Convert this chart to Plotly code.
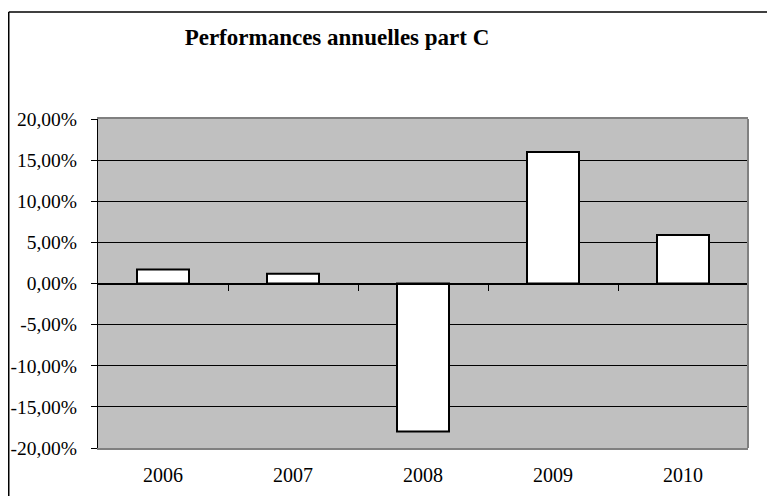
import plotly.graph_objects as go

years = ["2006", "2007", "2008", "2009", "2010"]
perf = [1.7, 1.2, -18.0, 16.0, 5.9]
ytick_vals = [20, 15, 10, 5, 0, -5, -10, -15, -20]
ytick_text = ["20,00%", "15,00%", "10,00%", "5,00%", "0,00%", "-5,00%", "-10,00%", "-15,00%", "-20,00%"]
title_text = "Performances annuelles part C"

FONT = "Liberation Serif, Times New Roman, serif"

# page body has an 8px margin; figure is sized to fit the window
W, H = 767, 488
L, T, R, B = 90, 111, 27, 48
PW, PH = W - L - R, H - T - B

fig = go.Figure()
fig.add_trace(go.Bar(
    x=years, y=perf, width=0.4,
    marker=dict(color="white", line=dict(color="black", width=2)),
    showlegend=False, hoverinfo="x+y",
))
# empty trace to carry the zero-line axis
fig.add_trace(go.Scatter(x=[], y=[], xaxis="x2", showlegend=False))

fig.update_layout(
    width=W, height=H,
    margin=dict(l=L, r=R, t=T, b=B, pad=0, autoexpand=False),
    paper_bgcolor="white",
    plot_bgcolor="#C0C0C0",
    font=dict(family=FONT, size=19.5, color="black"),
    title=dict(text="<b>" + title_text + "</b>", font=dict(family=FONT, size=23, color="black"),
               x=329 / W, xanchor="center", xref="container",
               y=1 - 29 / H, yanchor="middle", yref="container", automargin=False),
    xaxis=dict(type="category", range=[-0.5, 4.5], showgrid=False, zeroline=False,
               showline=True, linecolor="#808080", linewidth=2, mirror=True,
               ticks="", ticklabelstandoff=8, tickfont=dict(size=20), automargin=False),
    xaxis2=dict(overlaying="x", anchor="free", position=0.5, range=[-0.5, 4.5],
                showline=True, linecolor="black", linewidth=1,
                tickvals=[0.5, 1.5, 2.5, 3.5, 4.5], ticks="outside", ticklen=6,
                tickcolor="black", tickwidth=1, showticklabels=False,
                showgrid=False, zeroline=False, automargin=False),
    yaxis=dict(range=[-20, 20], tickvals=ytick_vals, ticktext=ytick_text,
               showgrid=True, gridcolor="black", gridwidth=1, zeroline=False,
               showline=True, linecolor="black", linewidth=1,
               ticks="outside", ticklen=6, tickcolor="black",
               ticklabelstandoff=10, tickfont=dict(size=19.5), automargin=False),
    shapes=[
        # right border of plot area
        dict(type="line", xref="paper", yref="paper", x0=1, x1=1, y0=0, y1=1,
             line=dict(color="#808080", width=2)),
        # outer chart frame (top and left edges, extending past the image)
        dict(type="line", xref="paper", yref="paper",
             x0=(0.75 - L) / PW, x1=(W + 10 - L) / PW,
             y0=(H - B - 4) / PH, y1=(H - B - 4) / PH,
             line=dict(color="black", width=1.5)),
        dict(type="line", xref="paper", yref="paper",
             x0=(0.75 - L) / PW, x1=(0.75 - L) / PW,
             y0=(H - B - 4) / PH, y1=(H - B - H - 20) / PH,
             line=dict(color="black", width=1.5)),
    ],
)

fig.write_html("out.html")
